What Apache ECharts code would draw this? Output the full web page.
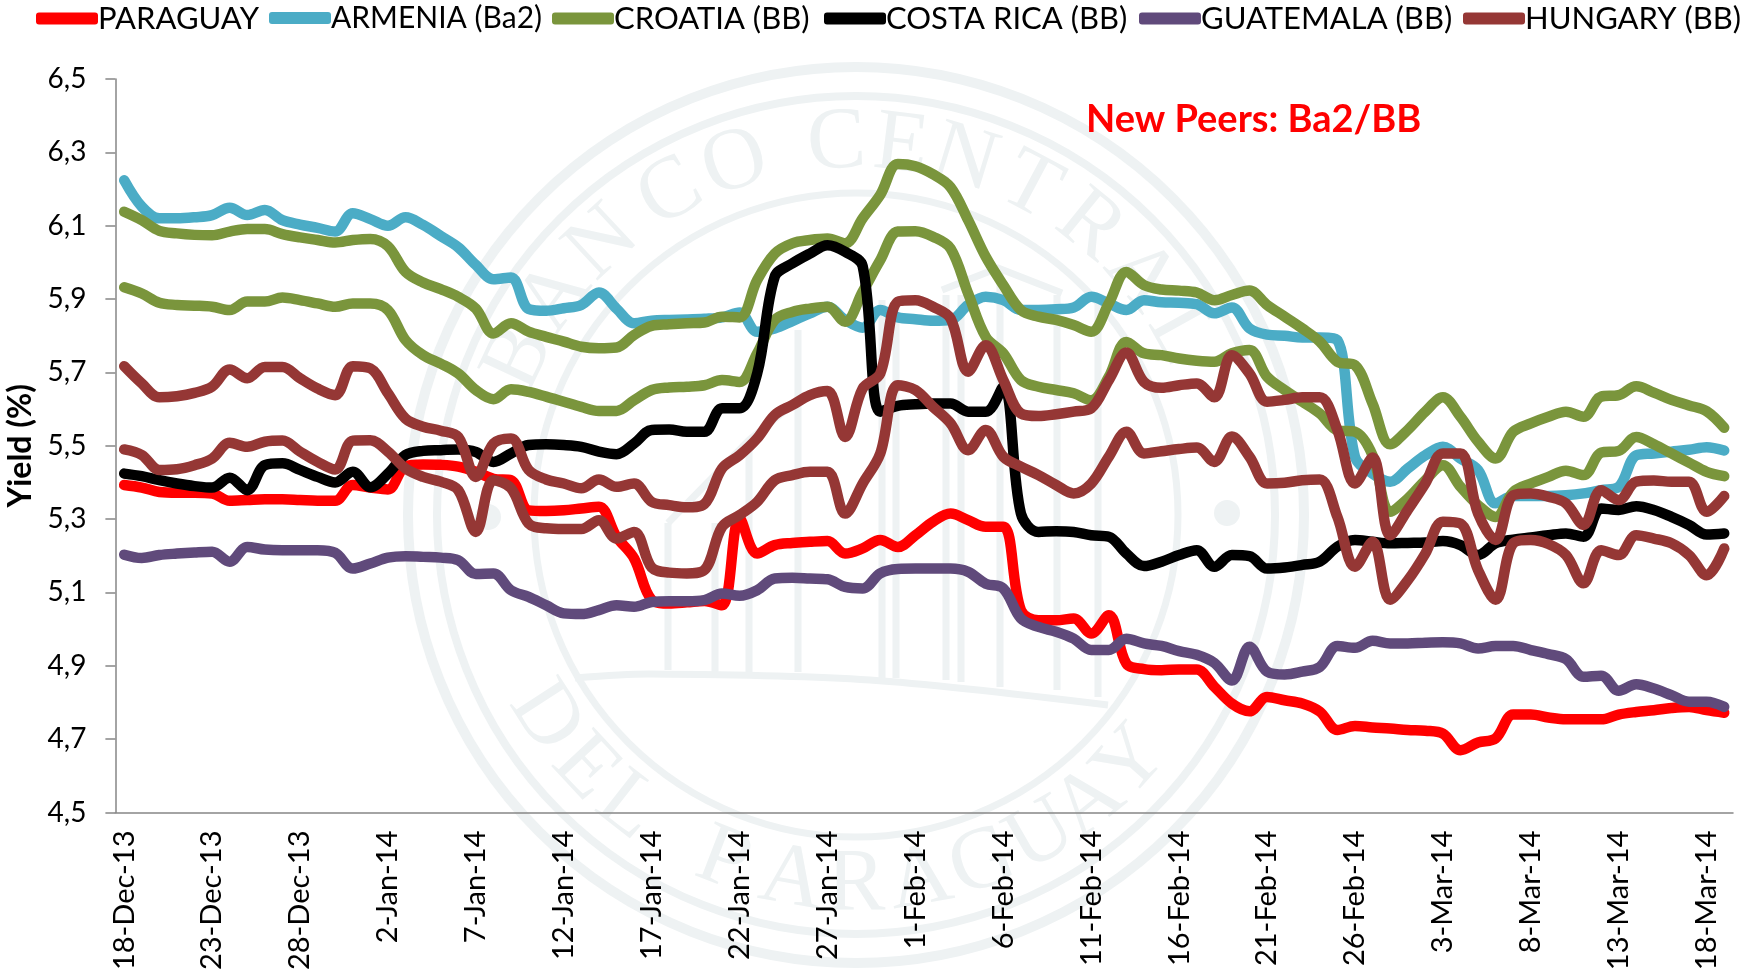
<!DOCTYPE html>
<html><head><meta charset="utf-8">
<style>html,body{margin:0;padding:0;background:#fff}#c{width:1748px;height:973px}</style>
<script src="https://cdn.jsdelivr.net/npm/echarts@6/dist/echarts.min.js"></script>
</head><body><div id="c"></div>
<script>
const categories = ["18-Dec-13","19-Dec-13","20-Dec-13","21-Dec-13","22-Dec-13","23-Dec-13","24-Dec-13","25-Dec-13","26-Dec-13","27-Dec-13","28-Dec-13","29-Dec-13","30-Dec-13","31-Dec-13",
"1-Jan-14","2-Jan-14","3-Jan-14","4-Jan-14","5-Jan-14","6-Jan-14","7-Jan-14","8-Jan-14","9-Jan-14","10-Jan-14","11-Jan-14","12-Jan-14","13-Jan-14","14-Jan-14","15-Jan-14","16-Jan-14","17-Jan-14","18-Jan-14","19-Jan-14","20-Jan-14","21-Jan-14","22-Jan-14","23-Jan-14","24-Jan-14","25-Jan-14","26-Jan-14","27-Jan-14","28-Jan-14","29-Jan-14","30-Jan-14","31-Jan-14",
"1-Feb-14","2-Feb-14","3-Feb-14","4-Feb-14","5-Feb-14","6-Feb-14","7-Feb-14","8-Feb-14","9-Feb-14","10-Feb-14","11-Feb-14","12-Feb-14","13-Feb-14","14-Feb-14","15-Feb-14","16-Feb-14","17-Feb-14","18-Feb-14","19-Feb-14","20-Feb-14","21-Feb-14","22-Feb-14","23-Feb-14","24-Feb-14","25-Feb-14","26-Feb-14","27-Feb-14","28-Feb-14",
"1-Mar-14","2-Mar-14","3-Mar-14","4-Mar-14","5-Mar-14","6-Mar-14","7-Mar-14","8-Mar-14","9-Mar-14","10-Mar-14","11-Mar-14","12-Mar-14","13-Mar-14","14-Mar-14","15-Mar-14","16-Mar-14","17-Mar-14","18-Mar-14","19-Mar-14"];
const yTicks = [4.5,4.7,4.9,5.1,5.3,5.5,5.7,5.9,6.1,6.3,6.5];

const paraguay = [5.393,5.386,5.374,5.372,5.372,5.37,5.35,5.352,5.354,5.354,5.352,5.35,5.35,5.393,5.386,5.381,5.444,5.449,5.448,5.443,5.429,5.41,5.406,5.324,5.322,5.324,5.329,5.334,5.252,5.193,
5.08,5.07,5.073,5.077,5.065,5.302,5.206,5.229,5.235,5.238,5.24,5.206,5.22,5.243,5.224,5.256,5.293,5.315,5.297,5.279,5.279,5.052,5.024,5.024,5.029,4.988,5.038,4.906,4.891,
4.888,4.89,4.89,4.843,4.797,4.776,4.815,4.806,4.797,4.775,4.725,4.736,4.732,4.729,4.725,4.723,4.715,4.67,4.691,4.702,4.767,4.767,4.759,4.754,4.754,4.754,4.767,4.774,4.779,4.785,4.788,4.779,4.772];
const armenia = [6.224,6.152,6.12,6.12,6.123,6.129,6.149,6.129,6.143,6.115,6.103,6.094,6.084,6.134,6.118,6.1,6.123,6.102,6.072,6.041,5.993,5.954,5.959,5.873,5.868,5.875,5.884,5.918,5.874,5.834,
5.841,5.843,5.844,5.846,5.85,5.863,5.811,5.82,5.84,5.861,5.879,5.843,5.822,5.87,5.85,5.845,5.841,5.843,5.884,5.906,5.897,5.87,5.87,5.872,5.877,5.906,5.888,5.87,5.897,
5.891,5.89,5.886,5.861,5.877,5.82,5.803,5.8,5.795,5.795,5.788,5.47,5.424,5.402,5.438,5.474,5.497,5.465,5.434,5.343,5.363,5.363,5.363,5.365,5.37,5.379,5.388,5.474,5.479,5.484,5.489,5.496,5.487];
const croatiaA = [6.138,6.115,6.086,6.079,6.075,6.074,6.084,6.091,6.091,6.077,6.068,6.061,6.054,6.061,6.064,6.044,5.974,5.945,5.927,5.906,5.874,5.806,5.834,5.811,5.797,5.784,5.77,5.766,5.768,5.802,
5.827,5.831,5.834,5.836,5.852,5.85,5.952,6.024,6.052,6.061,6.065,6.052,6.12,6.184,6.268,6.262,6.24,6.205,6.115,6.015,5.938,5.87,5.852,5.843,5.829,5.811,5.888,5.974,5.938,
5.926,5.923,5.918,5.897,5.911,5.923,5.884,5.852,5.82,5.784,5.729,5.72,5.615,5.504,5.543,5.593,5.632,5.579,5.511,5.465,5.538,5.561,5.579,5.593,5.579,5.634,5.638,5.662,5.645,5.625,5.61,5.594,5.549];
const croatiaB = [5.932,5.915,5.89,5.884,5.882,5.879,5.87,5.893,5.893,5.904,5.897,5.888,5.879,5.888,5.888,5.87,5.788,5.747,5.724,5.697,5.652,5.627,5.654,5.647,5.634,5.62,5.606,5.595,5.595,5.624,
5.652,5.659,5.661,5.665,5.679,5.674,5.752,5.843,5.865,5.874,5.879,5.838,5.92,6.006,6.084,6.085,6.07,6.038,5.915,5.797,5.752,5.679,5.661,5.652,5.643,5.624,5.688,5.783,5.752,
5.747,5.738,5.732,5.729,5.752,5.761,5.688,5.652,5.62,5.588,5.542,5.538,5.474,5.32,5.356,5.406,5.447,5.388,5.338,5.306,5.374,5.397,5.415,5.432,5.42,5.481,5.486,5.524,5.504,5.479,5.454,5.429,5.417];
const costaRica = [5.424,5.417,5.406,5.397,5.39,5.386,5.413,5.379,5.447,5.452,5.434,5.415,5.4,5.429,5.387,5.424,5.475,5.486,5.488,5.49,5.483,5.456,5.479,5.502,5.504,5.502,5.497,5.484,5.477,5.506,
5.543,5.544,5.538,5.538,5.602,5.602,5.697,5.961,5.997,6.024,6.047,6.029,5.99,5.593,5.609,5.613,5.615,5.615,5.593,5.593,5.661,5.315,5.265,5.267,5.265,5.256,5.252,5.206,5.172,
5.184,5.202,5.215,5.17,5.202,5.199,5.165,5.168,5.175,5.184,5.225,5.243,5.238,5.234,5.235,5.236,5.24,5.229,5.202,5.234,5.244,5.25,5.256,5.261,5.252,5.329,5.325,5.335,5.325,5.306,5.284,5.258,5.261];
const guatemala = [5.203,5.194,5.202,5.206,5.209,5.211,5.184,5.224,5.217,5.215,5.215,5.215,5.208,5.165,5.179,5.195,5.199,5.197,5.195,5.188,5.15,5.152,5.106,5.088,5.065,5.043,5.041,5.052,5.065,5.061,
5.074,5.076,5.076,5.079,5.097,5.091,5.106,5.138,5.14,5.138,5.136,5.115,5.111,5.152,5.164,5.165,5.165,5.165,5.156,5.124,5.111,5.029,5.006,4.993,4.974,4.943,4.943,4.974,4.961,
4.954,4.94,4.93,4.908,4.86,4.952,4.884,4.876,4.884,4.897,4.954,4.949,4.968,4.961,4.961,4.963,4.964,4.961,4.947,4.954,4.954,4.943,4.932,4.918,4.87,4.873,4.832,4.85,4.838,4.82,4.802,4.802,4.788];
const hungaryA = [5.717,5.67,5.632,5.635,5.644,5.661,5.708,5.684,5.715,5.715,5.684,5.656,5.638,5.717,5.711,5.643,5.574,5.552,5.541,5.524,5.415,5.506,5.52,5.434,5.408,5.397,5.384,5.408,5.388,5.397,
5.347,5.338,5.332,5.341,5.438,5.474,5.52,5.584,5.611,5.638,5.649,5.524,5.656,5.697,5.893,5.897,5.879,5.847,5.702,5.774,5.679,5.588,5.581,5.586,5.593,5.602,5.679,5.754,5.674,
5.658,5.665,5.67,5.632,5.747,5.697,5.62,5.625,5.632,5.632,5.543,5.397,5.468,5.256,5.325,5.397,5.479,5.479,5.315,5.243,5.365,5.37,5.361,5.343,5.284,5.379,5.352,5.402,5.405,5.402,5.402,5.32,5.363];
const hungaryB = [5.49,5.475,5.434,5.436,5.447,5.465,5.508,5.497,5.511,5.514,5.484,5.456,5.435,5.514,5.515,5.484,5.438,5.415,5.402,5.379,5.265,5.406,5.384,5.288,5.275,5.273,5.273,5.297,5.247,5.265,
5.168,5.154,5.152,5.161,5.279,5.311,5.347,5.406,5.42,5.429,5.429,5.315,5.397,5.479,5.665,5.652,5.606,5.561,5.488,5.543,5.47,5.443,5.42,5.393,5.37,5.397,5.47,5.538,5.479,
5.485,5.491,5.495,5.456,5.525,5.47,5.397,5.399,5.406,5.408,5.306,5.17,5.238,5.08,5.133,5.206,5.293,5.288,5.161,5.08,5.234,5.243,5.232,5.202,5.125,5.215,5.202,5.256,5.247,5.234,5.202,5.147,5.22];

const seriesDefs = [
  ['PARAGUAY', paraguay, '#FF0000'],
  ['ARMENIA (Ba2)', armenia, '#4BACC6'],
  ['CROATIA (BB)', croatiaA, '#7A953C'],
  ['CROATIA (BB)', croatiaB, '#7A953C'],
  ['COSTA RICA (BB)', costaRica, '#000000'],
  ['GUATEMALA (BB)', guatemala, '#604A7B'],
  ['HUNGARY (BB)', hungaryA, '#953735'],
  ['HUNGARY (BB)', hungaryB, '#953735']
];
const legendNames = ['PARAGUAY','ARMENIA (Ba2)','CROATIA (BB)','COSTA RICA (BB)','GUATEMALA (BB)','HUNGARY (BB)'];
const legendLeft = [36,269,552,824,1139,1463];
const legendFont = [31,30,31,31,31,31];

// Faint seal behind the chart
const seal = '#eef2f3', cx = 856, cy = 515;
const rings = [[448,10],[419,8],[322,7]];
const topText = 'BANCOCENTRAL', topAngles = [-65,-54,-43,-30,-19,-3,7,17,28,39,50,61];
const botText = 'DELPARAGUAY', botAngles = [-57,-47,-38,-21,-10,0,10,20,30,39,48];
const columns = [[668,523,670],[715,523,672],[749,440,672],[798,330,672],[882,300,678],[896,300,678],[946,295,680],[961,295,682],[1000,270,687],[1057,295,690],[1098,300,697]];
const graphics = [];
rings.forEach(r => graphics.push({type:'circle',silent:true,z:0,shape:{cx,cy,r:r[0]},style:{fill:'none',stroke:seal,lineWidth:r[1]}}));
[...topText].forEach((ch,i)=>{const a=topAngles[i]*Math.PI/180;graphics.push({type:'text',silent:true,z:0,x:cx+371*Math.sin(a),y:cy-371*Math.cos(a),rotation:-a,style:{text:ch,fill:seal,font:'88px "Liberation Serif"',textAlign:'center',textVerticalAlign:'middle'}})});
[...botText].forEach((ch,i)=>{const a=botAngles[i]*Math.PI/180;graphics.push({type:'text',silent:true,z:0,x:cx+371*Math.sin(a),y:cy+371*Math.cos(a),rotation:a,style:{text:ch,fill:seal,font:'88px "Liberation Serif"',textAlign:'center',textVerticalAlign:'middle'}})});
columns.forEach(c=>graphics.push({type:'line',silent:true,z:0,shape:{x1:c[0],y1:c[1],x2:c[0],y2:c[2]},style:{stroke:seal,lineWidth:7}}));
graphics.push({type:'polyline',silent:true,z:0,shape:{points:[[575,678],[650,674],[870,680],[1108,705]],smooth:0.3},style:{fill:'none',stroke:seal,lineWidth:7}});
graphics.push({type:'polyline',silent:true,z:0,shape:{points:[[942,290],[998,268],[1062,293]]},style:{fill:'none',stroke:seal,lineWidth:7}});
graphics.push({type:'polyline',silent:true,z:0,shape:{points:[[668,523],[749,440],[798,400]]},style:{fill:'none',stroke:seal,lineWidth:7}});
[[1227,513],[488,517]].forEach(p=>graphics.push({type:'circle',silent:true,z:0,shape:{cx:p[0],cy:p[1],r:13},style:{fill:seal}}));

const chart = echarts.init(document.getElementById('c'),null,{renderer:'canvas'});
chart.setOption({
  animation:false,
  backgroundColor:'#ffffff',
  textStyle:{fontFamily:'Lato'},
  graphic:graphics,
  title:{text:'New Peers: Ba2/BB',left:1081,top:96,textStyle:{color:'#FF0000',fontFamily:'Lato',fontWeight:'bold',fontSize:38}},
  legend:legendNames.map((n,i)=>({
    data:[n],left:legendLeft[i],top:3,padding:0,selectedMode:false,icon:'roundRect',itemWidth:62,itemHeight:12,
    textStyle:{fontFamily:'Lato',fontSize:legendFont[i],color:'#000',padding:[0,0,0,-5]}
  })),
  grid:{left:115.4,right:15,top:79,bottom:160.5,containLabel:false,outerBoundsMode:'none'},
  xAxis:{type:'category',data:categories,boundaryGap:true,
    axisLine:{lineStyle:{color:'#868686',width:1.5}},
    axisTick:{interval:4,length:10,lineStyle:{color:'#868686',width:1.5}},
    axisLabel:{interval:4,rotate:90,margin:18,fontFamily:'Lato',fontSize:29,color:'#000'}
  },
  yAxis:{type:'value',min:4.5,max:6.5,
    name:'Yield (%)',nameLocation:'middle',nameRotate:90,nameGap:79,
    nameTextStyle:{fontFamily:'Lato',fontWeight:'bold',fontSize:32,color:'#000'},
    splitLine:{show:false},
    axisLine:{show:true,lineStyle:{color:'#868686',width:1.5}},
    axisTick:{show:true,length:10,customValues:yTicks,lineStyle:{color:'#868686',width:1.5}},
    axisLabel:{margin:29,customValues:yTicks,formatter:v=>v.toFixed(1).replace('.',','),fontFamily:'Lato',fontSize:28,color:'#000'}
  },
  series:seriesDefs.map(s=>({
    type:'line',name:s[0],data:s[1],smooth:0.35,symbol:'none',z:2,
    itemStyle:{color:s[2]},
    lineStyle:{color:s[2],width:10.5,cap:'round',join:'round'}
  }))
});
</script></body></html>
